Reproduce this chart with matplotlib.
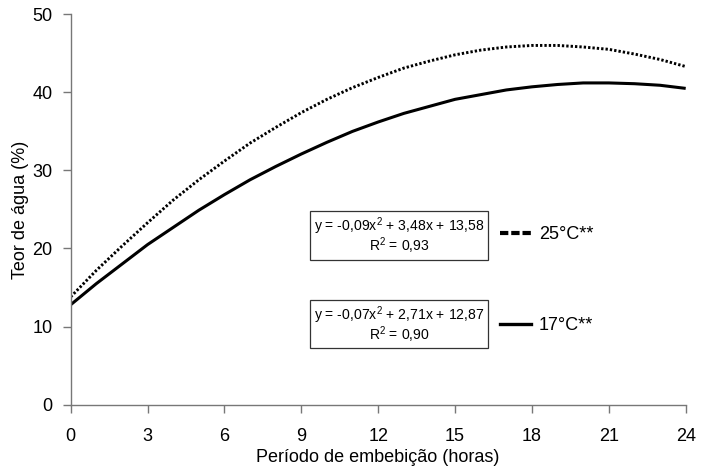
import matplotlib.pyplot as plt
from matplotlib.lines import Line2D
from matplotlib.patches import Rectangle

plt.rcParams['font.family'] = ['Liberation Sans', 'DejaVu Sans']
plt.rcParams['mathtext.default'] = 'regular'

# horas de embebição
horas = list(range(0, 25))

# teor de água (%)
teor_25 = [13.8, 17.2, 20.3, 23.3, 26.2, 28.8, 31.2, 33.5, 35.5, 37.4, 39.1, 40.6, 41.9,
           43.1, 44.0, 44.8, 45.4, 45.8, 46.0, 46.0, 45.8, 45.5, 44.9, 44.2, 43.3]
teor_17 = [12.8, 15.5, 18.0, 20.5, 22.7, 24.9, 26.9, 28.8, 30.5, 32.1, 33.6, 35.0, 36.2,
           37.3, 38.2, 39.1, 39.7, 40.3, 40.7, 41.0, 41.2, 41.2, 41.1, 40.9, 40.5]

series_labels = ['25°C**', '17°C**']
eq_lines = [['y = -0,09x$^2$ + 3,48x + 13,58', 'R$^2$ = 0,93'],
            ['y = -0,07x$^2$ + 2,71x + 12,87', 'R$^2$ = 0,90']]

x_ticks = [0, 3, 6, 9, 12, 15, 18, 21, 24]
y_ticks = [0, 10, 20, 30, 40, 50]

W, H = 712, 470
fig = plt.figure(figsize=(W / 100, H / 100), dpi=100)
ax = fig.add_axes([70.7 / W, 1 - 404.7 / H, 615 / W, 390.5 / H])

ax.plot(horas, teor_25, color='k', lw=2.1, dashes=(0.8, 0.7), dash_capstyle='butt')
ax.plot(horas, teor_17, color='k', lw=2.2, solid_capstyle='butt')

ax.set_xlim(0, 24)
ax.set_ylim(0, 50)
ax.set_xticks(x_ticks)
ax.set_yticks(y_ticks)
ax.tick_params(axis='both', labelsize=13, length=6, width=1, color='#777777')
ax.tick_params(axis='x', pad=11)
ax.tick_params(axis='y', pad=7)
for s in ['top', 'right']:
    ax.spines[s].set_visible(False)
for s in ['left', 'bottom']:
    ax.spines[s].set_color('#777777')
    ax.spines[s].set_linewidth(1)

fig.text(378 / W, 1 - 457 / H, 'Período de embebição (horas)', ha='center', va='center', fontsize=13)
fig.text(21 / W, 1 - 210 / H, 'Teor de água (%)', ha='center', va='center', rotation=90, fontsize=13)

# caixas com as equações
box_tops = [211, 299.5]
for top, lines in zip(box_tops, eq_lines):
    fig.add_artist(Rectangle((310 / W, 1 - (top + 48.5) / H), 178 / W, 48.5 / H,
                             transform=fig.transFigure, fill=False, ec='#333333', lw=0.9))
    fig.text(399 / W, 1 - (top + 15.5) / H, lines[0], ha='center', va='center', fontsize=10.1)
    fig.text(399 / W, 1 - (top + 35) / H, lines[1], ha='center', va='center', fontsize=10.1)

handles = [Line2D([], [], color='k', lw=3, dashes=(2.0, 0.7)),
           Line2D([], [], color='k', lw=2.4)]
fig.legend(handles, series_labels, loc='upper left', bbox_to_anchor=(500 / W, 1 - 226 / H),
           frameon=False, fontsize=13, borderpad=0, borderaxespad=0, handlelength=1.7,
           handletextpad=0.45, labelspacing=4.1)

fig.savefig('out.png', dpi=100)
